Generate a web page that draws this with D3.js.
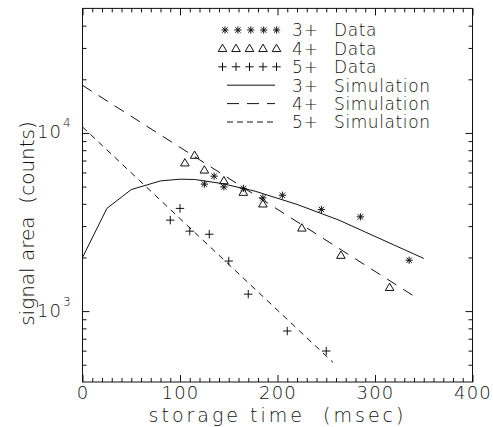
<!DOCTYPE html>
<html>
<head>
<meta charset="utf-8">
<script src="https://cdn.jsdelivr.net/npm/d3@7"></script>
<style>
  body { margin: 0; background: #fff; }
  text { font-family: "DejaVu Sans", sans-serif; font-weight: 200; fill: #111; white-space: pre; }
</style>
</head>
<body>
<div id="main"></div>
<script>
var ctx = {
    width: 493,
    height: 427,
    left: 82.5,
    right: 472.5,
    top: 8.4,
    bottom: 382
};

// 3+ data (stars)
var data3x = [125, 135, 145, 165, 185, 205, 245, 285, 335];
var data3y = [5160, 5720, 4980, 4880, 4320, 4470, 3720, 3380, 1930];
// 4+ data (triangles)
var data4x = [105, 115, 125, 145, 165, 185, 225, 265, 315];
var data4y = [6800, 7500, 6200, 5400, 4650, 4000, 2930, 2060, 1360];
// 5+ data (crosses)
var data5x = [90, 100, 110, 130, 150, 170, 210, 250];
var data5y = [3240, 3770, 2810, 2700, 1910, 1245, 773, 597];

// simulations
var sim3x = [0, 25, 50, 80, 100, 115, 143, 177, 220, 263, 350];
var sim3y = [2000, 3770, 4810, 5380, 5500, 5480, 5200, 4710, 3970, 3240, 1975];
var sim4x = [0, 342];
var sim4y = [18500, 1194];
var sim5x = [0, 257];
var sim5y = [10800, 515];

var legendLabels = ["3+", "4+", "5+", "3+", "4+", "5+"];
var legendKinds = ["Data", "Data", "Data", "Simulation", "Simulation", "Simulation"];

var xTicks = [0, 100, 200, 300, 400];
var yTicks = [1e3, 1e4];

var svg = d3.select("#main").append("svg")
    .attr("width", ctx.width)
    .attr("height", ctx.height);

var x = d3.scaleLinear().domain([0, 400]).range([ctx.left, ctx.right]);
var y = d3.scaleLog().domain([400, 50000]).range([ctx.bottom, ctx.top]);

// frame
svg.append("rect")
    .attr("x", ctx.left).attr("y", ctx.top)
    .attr("width", ctx.right - ctx.left).attr("height", ctx.bottom - ctx.top)
    .attr("fill", "none").attr("stroke", "#111").attr("stroke-width", 1);

var xMinor = d3.range(0, 401, 10).filter(function(v) { return v % 100 != 0; });
var yMinor = [];
[100, 1000, 10000].forEach(function(dec) {
    for (var k = 2; k <= 9; k++) {
        var v = dec * k;
        if (v > 400 && v < 50000) yMinor.push(v);
    }
});

function styleAxis(g) {
    g.select(".domain").remove();
    g.selectAll(".tick line").attr("stroke", "#111");
}

// bottom / top ticks (inward)
svg.append("g").attr("transform", "translate(0," + ctx.bottom + ")")
    .call(d3.axisBottom(x).tickValues(xMinor).tickSize(-4).tickFormat(""))
    .call(styleAxis);
svg.append("g").attr("transform", "translate(0," + ctx.top + ")")
    .call(d3.axisTop(x).tickValues(xMinor).tickSize(-4).tickFormat(""))
    .call(styleAxis);
svg.append("g").attr("transform", "translate(0," + ctx.top + ")")
    .call(d3.axisTop(x).tickValues(xTicks).tickSize(-7).tickFormat(""))
    .call(styleAxis);
var xAxis = svg.append("g").attr("transform", "translate(0," + ctx.bottom + ")")
    .call(d3.axisBottom(x).tickValues(xTicks).tickSize(-7).tickPadding(4.5).tickFormat(d3.format("d")))
    .call(styleAxis);
xAxis.selectAll("text")
    .attr("font-size", 18)
    .attr("letter-spacing", 1.2)
    .style("font-family", "DejaVu Sans, sans-serif")
    .style("font-weight", 200)
    .attr("fill", "#111");

// left / right ticks
svg.append("g").attr("transform", "translate(" + ctx.left + ",0)")
    .call(d3.axisLeft(y).tickValues(yMinor).tickSize(-4).tickFormat(""))
    .call(styleAxis);
svg.append("g").attr("transform", "translate(" + ctx.left + ",0)")
    .call(d3.axisLeft(y).tickValues(yTicks).tickSize(-7).tickFormat(""))
    .call(styleAxis);
svg.append("g").attr("transform", "translate(" + ctx.right + ",0)")
    .call(d3.axisRight(y).tickValues(yMinor).tickSize(-4).tickFormat(""))
    .call(styleAxis);
svg.append("g").attr("transform", "translate(" + ctx.right + ",0)")
    .call(d3.axisRight(y).tickValues(yTicks).tickSize(-7).tickFormat(""))
    .call(styleAxis);

// y tick labels with superscripts
yTicks.forEach(function(v) {
    svg.append("text")
        .attr("x", 62).attr("y", y(v) + 5.5)
        .attr("text-anchor", "end")
        .attr("letter-spacing", 1)
        .attr("font-size", 18)
        .text("10");
    svg.append("text")
        .attr("x", 63).attr("y", y(v) - 5.5)
        .attr("font-size", 12)
        .text(Math.round(Math.log10(v)));
});

// axis titles
svg.append("text")
    .attr("x", (ctx.left + ctx.right) / 2).attr("y", 421.5)
    .attr("text-anchor", "middle")
    .attr("font-size", 19)
    .attr("letter-spacing", 3)
    .text("storage time  (msec)");
svg.append("text")
    .attr("transform", "translate(34,223.5) rotate(-90)")
    .attr("text-anchor", "middle")
    .attr("font-size", 20)
    .attr("letter-spacing", 0)
    .text("signal area  (counts)");

var plot = svg.append("g");

var line = d3.line()
    .x(function(d) { return x(d[0]); })
    .y(function(d) { return y(d[1]); });

function zip(a, b) { return a.map(function(v, i) { return [v, b[i]]; }); }

plot.append("path").datum(zip(sim3x, sim3y))
    .attr("d", line).attr("fill", "none").attr("stroke", "#111").attr("stroke-width", 1);
plot.append("path").datum(zip(sim4x, sim4y))
    .attr("d", line).attr("fill", "none").attr("stroke", "#111").attr("stroke-width", 1)
    .attr("stroke-dasharray", "11,8");
plot.append("path").datum(zip(sim5x, sim5y))
    .attr("d", line).attr("fill", "none").attr("stroke", "#111").attr("stroke-width", 1)
    .attr("stroke-dasharray", "6,5");

// marker paths
function starPath(cx, cy) {
    var r = 3.6, d = r * 0.75;
    return "M" + cx + "," + (cy - r) + "L" + cx + "," + (cy + r) +
        "M" + (cx - d) + "," + (cy - d) + "L" + (cx + d) + "," + (cy + d) +
        "M" + (cx - d) + "," + (cy + d) + "L" + (cx + d) + "," + (cy - d) +
        "M" + (cx - r) + "," + cy + "L" + (cx + r) + "," + cy;
}
function triPath(cx, cy) {
    var w = 4.3, h = 4.2;
    return "M" + cx + "," + (cy - h) + "L" + (cx + w) + "," + (cy + h * 0.75) +
        "L" + (cx - w) + "," + (cy + h * 0.75) + "Z";
}
function plusPath(cx, cy) {
    var r = 4.2;
    return "M" + (cx - r) + "," + cy + "L" + (cx + r) + "," + cy +
        "M" + cx + "," + (cy - r) + "L" + cx + "," + (cy + r);
}

function drawMarkers(xs, ys, fn) {
    plot.append("g").selectAll("path")
        .data(zip(xs, ys))
        .enter().append("path")
        .attr("d", function(d) { return fn(x(d[0]), y(d[1])); })
        .attr("fill", "none").attr("stroke", "#111").attr("stroke-width", 1);
}
drawMarkers(data3x, data3y, starPath);
drawMarkers(data4x, data4y, triPath);
drawMarkers(data5x, data5y, plusPath);

// legend
var legend = svg.append("g");
var rowY = function(i) { return 30 + i * 18.4; };
var markerFns = [starPath, triPath, plusPath];
for (var i = 0; i < 3; i++) {
    for (var k = 0; k < 5; k++) {
        legend.append("path")
            .attr("d", markerFns[i](i == 0 ? 225 + k * 12.9 : 222.5 + k * 13.5, rowY(i)))
            .attr("fill", "none").attr("stroke", "#111").attr("stroke-width", 1);
    }
}
var dashes = [null, "12,8", "6,4"];
for (var j = 0; j < 3; j++) {
    legend.append("line")
        .attr("x1", 227).attr("x2", 275)
        .attr("y1", rowY(3 + j)).attr("y2", rowY(3 + j))
        .attr("stroke", "#111").attr("stroke-width", 1)
        .attr("stroke-dasharray", dashes[j]);
}
legendLabels.forEach(function(lab, i) {
    legend.append("text").attr("x", 292).attr("y", rowY(i) + 6.3)
        .attr("font-size", 17).attr("letter-spacing", 1).text(lab);
    legend.append("text").attr("x", 334).attr("y", rowY(i) + 6.3)
        .attr("font-size", 17).attr("letter-spacing", 0.6).text(legendKinds[i]);
});
</script>
</body>
</html>
